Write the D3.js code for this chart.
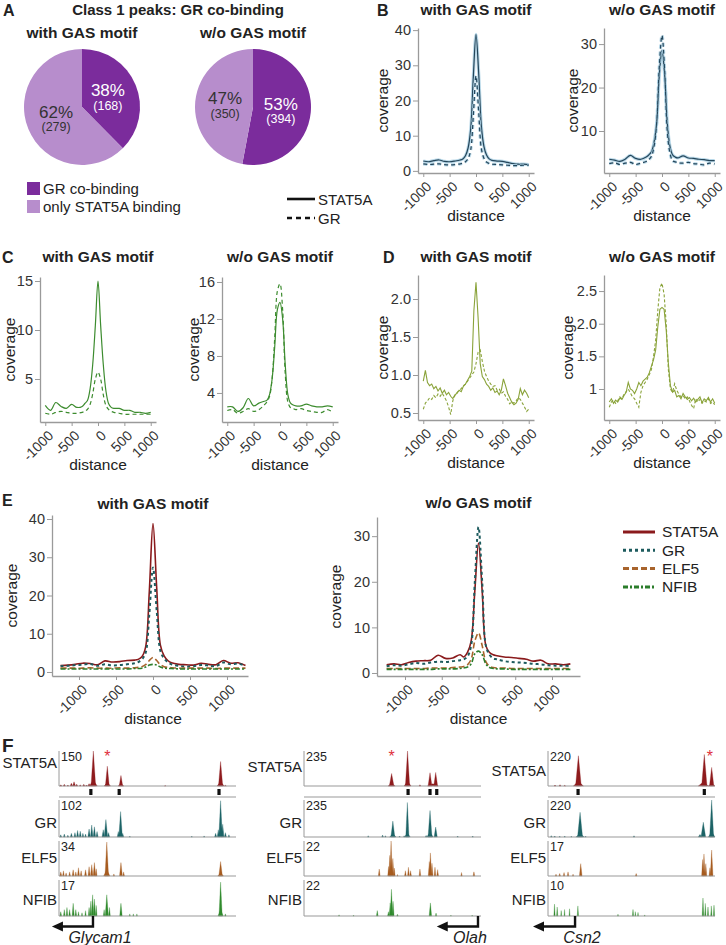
<!DOCTYPE html>
<html>
<head>
<meta charset="utf-8">
<script src="https://cdn.jsdelivr.net/npm/d3@7"></script>
<style>
  body { margin: 0; background: #fff; }
  svg text { font-family: "Liberation Sans", Arial, sans-serif; fill: #222; }
</style>
</head>
<body>
<svg id="fig" width="726" height="945"></svg>
<script>
// ---------- data ----------
// panel A
const pieCategories = ["GR co-binding", "only STAT5A binding"];
const pieWithGAS = [168, 279];
const pieWithoutGAS = [394, 350];

// panels B, C: distance grid
const distB = [-1000,-900,-800,-700,-600,-500,-400,-300,-250,-200,-150,-100,-50,0,50,100,150,200,250,300,400,500,600,700,800,900,1000];
const bWithSTAT5A = [2.8,2.6,2.9,3.1,2.7,2.6,2.8,3.1,3.4,4.3,6.5,12,27,38.8,28,13,7,4.5,3.4,3.0,2.8,2.7,2.4,2.1,1.9,1.9,1.8];
const bWithGR     = [2.0,1.8,1.9,2.0,1.8,1.7,1.8,2.0,2.2,2.6,3.5,6,16,27,17,6.5,3.6,2.5,2.1,1.9,1.8,1.7,1.6,1.5,1.5,1.6,1.6];
const bWithoutSTAT5A = [3.5,3.3,3.0,3.5,4.4,3.7,3.5,4.0,4.5,5.2,7.5,12,23,28.5,23,12,6.5,4.5,4.0,3.8,4.3,3.8,3.7,3.5,3.4,3.2,3.2];
const bWithoutGR     = [2.5,2.7,2.3,2.6,2.8,2.3,2.6,3.0,3.4,4.2,6.5,12,25,32,24,10,5,3.2,2.9,2.7,2.6,2.8,2.5,2.4,2.2,2.6,2.4];

const cWithSTAT5A = [2.3,1.8,2.6,2.2,2.0,2.4,2.1,2.2,2.5,2.8,4.0,6.5,10.5,15,10.5,6.5,3.8,2.5,2.1,2.0,2.0,1.8,1.8,1.6,1.6,1.5,1.6];
const cWithGR     = [1.5,1.4,1.6,1.7,1.6,1.5,1.5,1.6,1.7,1.9,2.4,3.5,5,5.7,5,3.4,2.3,1.9,1.7,1.6,1.5,1.4,1.4,1.4,1.4,1.4,1.4];
const cWithoutSTAT5A = [2.5,2.5,2.0,2.4,3.4,2.6,2.9,3.1,3.2,3.8,5.5,9,13,13.8,12,7,3.8,2.9,2.7,2.6,2.6,2.8,2.6,2.5,2.5,2.6,2.5];
const cWithoutGR     = [2.1,2.2,1.8,2.0,2.3,2.0,2.2,2.7,3.0,3.6,5.5,10,15,15.8,13,6,3.0,2.4,2.3,2.2,2.3,2.1,2.0,1.9,1.9,2.2,1.9];

// panel D
const distD = [-1000,-960,-920,-880,-840,-800,-760,-720,-680,-640,-600,-560,-520,-480,-440,-400,-360,-320,-280,-240,-200,-160,-120,-80,-40,0,40,80,120,160,200,240,280,320,360,400,440,480,520,560,600,640,680,720,760,800,840,880,920,960,1000];
const dWithSTAT5A = [0.92,1.06,0.90,0.86,0.88,0.82,0.85,0.79,0.83,0.76,0.80,0.74,0.77,0.72,0.69,0.74,0.76,0.80,0.78,0.85,0.88,0.93,0.98,1.05,1.85,2.22,1.75,1.15,0.98,0.94,0.88,0.85,0.80,0.83,0.77,0.79,0.74,0.80,0.95,0.86,0.76,0.70,0.64,0.61,0.63,0.68,0.82,0.74,0.80,0.76,0.70];
const dWithGR     = [0.55,0.63,0.66,0.70,0.68,0.73,0.70,0.75,0.72,0.76,0.71,0.66,0.58,0.48,0.66,0.73,0.77,0.80,0.82,0.86,0.88,0.92,0.96,1.00,1.04,1.15,1.30,1.33,1.18,1.05,0.98,0.92,0.88,0.85,0.86,0.80,0.82,0.76,0.78,0.72,0.68,0.62,0.65,0.63,0.66,0.70,0.68,0.63,0.58,0.52,0.55];
const dWithoutSTAT5A = [0.80,0.85,0.78,0.83,0.80,0.86,0.84,0.90,0.95,1.10,1.00,0.98,0.93,1.00,1.10,1.05,1.12,1.15,1.18,1.25,1.35,1.45,1.60,1.95,2.22,2.25,2.22,1.90,1.40,1.05,0.95,0.98,0.88,0.90,0.85,0.93,0.88,0.84,0.87,0.82,0.86,0.80,0.84,0.88,0.79,0.85,0.82,0.87,0.80,0.85,0.78];
const dWithoutGR     = [0.72,0.80,0.83,0.78,0.82,0.88,0.85,0.92,0.96,1.00,0.94,0.88,0.85,0.78,0.72,0.95,1.05,1.10,1.15,1.22,1.30,1.50,1.75,2.20,2.55,2.62,2.45,2.00,1.30,1.00,0.95,1.08,0.98,0.92,0.88,0.90,0.85,0.88,0.82,0.75,0.70,0.85,0.80,0.84,0.78,0.82,0.80,0.85,0.78,0.80,0.76];

// panel E
const distE = [-1250,-1150,-1050,-950,-850,-750,-650,-550,-450,-350,-250,-200,-150,-100,-50,0,50,100,150,200,250,350,450,550,650,750,850,950,1050,1150,1250];
const eWithSTAT5A = [1.7,1.8,2.0,2.3,2.2,1.9,2.9,2.6,2.7,3.0,3.1,3.3,4.0,6.5,21,38.8,22,7,4.2,3.0,2.4,2.0,1.9,1.8,2.3,2.0,1.9,3.0,2.3,2.4,1.7];
const eWithGR     = [1.5,1.6,1.8,1.9,2.1,1.6,2.0,1.7,1.8,2.0,2.3,2.6,3.3,5,15,27.3,16,5.5,3.5,2.6,2.0,1.6,1.4,1.5,1.8,1.7,1.5,2.5,2.0,2.2,1.6];
const eWithELF5   = [1.0,1.0,1.0,1.0,1.1,1.0,1.0,1.0,1.1,1.0,1.1,1.2,1.4,1.9,3.0,3.8,3.0,1.9,1.4,1.2,1.1,1.0,1.0,1.0,1.0,1.0,0.9,1.0,1.0,1.0,1.0];
const eWithNFIB   = [0.8,0.8,0.8,0.8,0.8,0.8,0.8,0.8,0.8,0.8,0.9,0.9,1.0,1.3,1.8,2.0,1.8,1.3,1.0,0.9,0.9,0.8,0.8,0.8,0.8,0.8,0.8,0.8,0.8,0.8,0.8];
const eWithoutSTAT5A = [1.8,2.0,1.8,2.3,2.6,2.7,2.8,3.9,3.2,3.3,4.0,3.5,4.5,7,18,28.5,18,6,4.5,4.0,3.8,3.5,3.4,3.2,3.0,2.6,2.8,2.0,2.0,1.8,2.0];
const eWithoutGR     = [1.5,1.7,1.6,1.9,2.2,2.0,2.3,2.5,2.4,2.6,2.8,3.0,3.6,6,20,32,20,6,4.0,3.2,3.0,2.6,2.4,2.3,2.2,2.0,1.9,1.7,1.6,1.6,1.5];
const eWithoutELF5   = [1.0,1.0,1.0,1.0,1.0,1.0,1.1,1.1,1.1,1.2,1.3,1.4,1.8,3.0,7.0,8.8,6.0,2.5,1.5,1.2,1.1,1.1,1.0,1.0,1.0,1.0,1.0,1.0,1.0,1.0,1.0];
const eWithoutNFIB   = [0.8,0.8,0.8,0.8,0.8,0.8,0.8,0.9,0.9,0.9,1.0,1.1,1.3,2.0,4.2,4.8,4.0,2.0,1.2,1.0,0.9,0.9,0.8,0.8,0.8,0.8,0.8,0.8,0.8,0.8,0.8];

const factors = ["STAT5A", "GR", "ELF5", "NFIB"];
const xTicksB = [-1000, -500, 0, 500, 1000];

// panel F: loci, track maxima, peaks as [position 0-100, height, half width]
const geneNames = ["Glycam1", "Olah", "Csn2"];
const geneTss = [19.2, 98.3, 16.2];
const geneTip = [-4, 75, -9];
const trackMax = [[150, 102, 34, 17], [235, 235, 22, 22], [220, 220, 17, 10]];
const peakCalls = [[18, 34, 90.4], [58.8, 71.2, 75], [18, 93.6]];
const starPos = [27.3, 49.5, 97];

const glyStat = [[1,5,.6],[3,7,.6],[5,4,.5],[7,12,.7],[8.5,18,.8],[10,8,.6],[12,5,.5],[14,7,.6],[15.5,4,.5],[17,10,.8],[19.4,25,2.2],[19.4,150,1.3],[27.3,15,1.8],[27.3,85,1.1],[35,10,1.6],[35,45,1],[60,2,.4],[91.3,18,2],[91.3,105,1.2],[94,3,.5]];
const glyGR = [[1,6,.5],[3,8,.5],[5,5,.5],[7,10,.6],[9,12,.6],[10.5,18,.6],[12,16,.6],[13.5,10,.5],[15,8,.5],[17,22,.7],[18.5,33,.7],[20,28,.7],[21.5,15,.6],[25,20,.7],[26.5,48,1],[28,12,.6],[33.5,15,.6],[34.8,70,1],[36,10,.6],[40,2,.4],[75,2,.4],[82,3,.4],[88.5,10,.6],[90,20,.6],[91.3,100,1],[92.5,35,.7],[94,12,.6],[96,6,.5]];
const glyELF5 = [[1,4,.6],[2.5,5,.5],[4,3,.5],[6,4,.5],[8,6,.6],[9.5,4,.5],[11,8,.6],[12.5,5,.5],[15,6,.6],[17,9,.6],[18.5,11,.7],[20,13,.7],[21,7,.5],[27,6,1.8],[27,33,1],[31,2,.4],[35,13,.8],[36.5,4,.5],[91.3,3,1.6],[91.3,14,1]];
const glyNFIB = [[1,2,.5],[3,3,.5],[4.5,4,.5],[6,3,.5],[8,6,.6],[9.5,3,.5],[11,2,.4],[13,1.5,.4],[15,2.5,.4],[17,4,.5],[18,7,.5],[19,10,.6],[20,8,.6],[21,5,.5],[25.5,3,.5],[27,10,.9],[28.5,4,.5],[35,6,.7],[40,1,.3],[42,1,.3],[44,1,.3],[91.3,3,1.5],[91.3,16,.9],[94,1,.4]];

const olahStat = [[49.5,15,2],[49.5,84,1.3],[58.5,30,2],[58.5,235,1.2],[65.5,8,.5],[72.8,15,3],[71.2,89,1.1],[74.4,91,1.1]];
const olahGR = [[36.3,8,.4],[44.4,12,.5],[46,8,.4],[50.2,20,1.8],[50.2,101,1.1],[54,6,.4],[56.6,8,.4],[58.4,25,1.6],[58.4,219,.9],[69,10,.5],[71.2,30,1.8],[71.2,168,1.1],[74.4,63,.9],[86.8,6,.4],[95.3,6,.4]];
const olahELF5 = [[42.5,4.4,.5],[47.8,6,.5],[48.5,13,.6],[49.2,22,.7],[50.2,11,.6],[51,5,.5],[52.8,1,.3],[57.3,3.3,.5],[59,5.5,.5],[60.2,3.3,.5],[65.5,4.4,.5],[70.8,9,.6],[71.4,14.5,.7],[72.3,8,.6],[74,5.5,.5],[75.5,4,.5],[89,2.2,.4],[96,2.6,.5]];
const olahNFIB = [[19.8,0.7,.3],[28,0.5,.3],[41.4,3.3,.5],[47.7,2.6,.5],[48.7,8,.6],[49.4,16.3,.7],[50.3,9,.6],[52.8,1.1,.4],[71.4,8,.7],[74.6,1.8,.4],[83,0.5,.3],[95,0.5,.3]];

const csnStat = [[4.2,6,.6],[7.2,8,.6],[10,4,.5],[18.2,30,3],[18.2,190,1.7],[93,25,3],[98,15,2],[93.6,198,1.6],[98,117,1.3]];
const csnGR = [[2,8,.5],[4,6,.5],[7,5,.4],[10,6,.4],[14,4,.4],[19.2,20,2.5],[19.2,147,1.5],[22.5,5,.4],[51.5,7,.5],[91,15,1],[93,88,1.4],[98,30,2],[98,220,1.2]];
const csnELF5 = [[4.8,0.9,.5],[7,1.2,.5],[9.6,1.7,.5],[12,2,.5],[15,0.9,.4],[19.6,6,.8],[52.8,1.2,.5],[92.6,8,.6],[93.4,10.7,.7],[94.5,6,.6],[97,4,.6],[98,12.6,.8]];
const csnNFIB = [[3.9,3.3,.4],[5.5,2.5,.4],[7.9,1.5,.3],[9.9,1.8,.3],[12.9,2,.3],[17.9,2.8,.4],[41.9,0.5,.3],[50.9,1.8,.4],[52.3,1.2,.3],[53.9,1,.3],[57.9,0.3,.3],[92.8,5,.5],[94.2,3.5,.4],[95.8,2.5,.4],[97.8,2.8,.4],[99.4,3,.4]];

// ---------- drawing ----------
const svg = d3.select("#fig");
const bold = (sel) => sel.style("font-weight", "bold");

function txt(x, y, s, size, opts = {}) {
  const t = svg.append("text").attr("x", x).attr("y", y).attr("dy", "0.35em")
    .attr("text-anchor", opts.anchor || "middle").style("font-size", size + "px").text(s);
  if (opts.bold) bold(t);
  if (opts.italic) t.style("font-style", "italic");
  if (opts.fill) t.style("fill", opts.fill);
  return t;
}

// panel letters and titles
[["A", 3, 10], ["B", 377, 10], ["C", 2, 257], ["D", 383, 257], ["E", 2, 500]].forEach(d =>
  txt(d[1], d[2], d[0], 16, { anchor: "start", bold: true }));
txt(2, 745, "F", 19, { anchor: "start", bold: true });

txt(178, 10, "Class 1 peaks: GR co-binding", 15, { bold: true });

// ---------- panel A ----------
const pieColors = ["#7b2c9c", "#b78dcc"];
function drawPie(cx, cy, vals, title) {
  txt(cx, 33, title, 15.5, { bold: true });
  const r = 58;
  const arcs = d3.pie().sort(null)(vals);
  const arc = d3.arc().innerRadius(0).outerRadius(r);
  const lab = d3.arc().innerRadius(28).outerRadius(28);
  const total = d3.sum(vals);
  const g = svg.append("g").attr("transform", `translate(${cx},${cy})`);
  g.selectAll("path").data(arcs).join("path")
    .attr("d", arc).attr("fill", (d, i) => pieColors[i]);
  arcs.forEach((d, i) => {
    const c = lab.centroid(d);
    const col = i === 0 ? "#fff" : "#333";
    txt(cx + c[0], cy + c[1] - 6, Math.round(d.value / total * 100) + "%", 17, { fill: col });
    txt(cx + c[0], cy + c[1] + 9, "(" + d.value + ")", 12.5, { fill: col });
  });
}
drawPie(82, 107, pieWithGAS, "with GAS motif");
drawPie(253, 107, pieWithoutGAS, "w/o GAS motif");

pieCategories.forEach((c, i) => {
  svg.append("rect").attr("x", 27).attr("y", 182 + i * 18).attr("width", 13).attr("height", 13)
    .attr("fill", pieColors[i]);
  txt(43, 188.5 + i * 18, c, 15, { anchor: "start" });
});

// line style legend for B-D
[["STAT5A", null], ["GR", "5,4"]].forEach((d, i) => {
  const l = svg.append("line").attr("x1", 287).attr("x2", 315)
    .attr("y1", 199 + i * 19).attr("y2", 199 + i * 19)
    .attr("stroke", "#111").attr("stroke-width", 2.6);
  if (d[1]) l.attr("stroke-dasharray", d[1]);
  txt(318, 200 + i * 19, d[0], 15, { anchor: "start" });
});

// ---------- profile plots ----------
function profilePlot(p) {
  const x = d3.scaleLinear().domain(p.xDom).range([p.left, p.right]);
  const y = d3.scaleLinear().domain(p.yDom).range([p.bottom, p.top]);
  const g = svg.append("g");

  const xa = g.append("g").attr("transform", `translate(0,${p.bottom})`)
    .call(d3.axisBottom(x).tickValues(p.xTicks || xTicksB).tickSize(4).tickSizeOuter(0)
      .tickFormat(d => String(d)));
  xa.selectAll("text").attr("x", 0).attr("y", 0).attr("dy", "0.35em")
    .attr("transform", "translate(5,11) rotate(-45)")
    .style("text-anchor", "end").style("font-size", "14px");

  const ya = g.append("g").attr("transform", `translate(${p.left},0)`)
    .call(d3.axisLeft(y).tickValues(p.yTicks).tickSize(5).tickSizeOuter(0)
      .tickFormat(p.yFmt || (d => String(d))));
  ya.selectAll("text").attr("x", -7).style("font-size", "14.5px");

  [xa, ya].forEach(a => {
    a.select(".domain").attr("stroke", "#9a9a9a").attr("stroke-width", 1.3);
    a.selectAll(".tick line").attr("stroke", "#9a9a9a");
    a.selectAll("text").style("fill", "#333").style("font-family", "Liberation Sans, Arial, sans-serif");
  });

  const line = d3.line().x((d, i) => x(p.dist[i])).y(d => y(d)).curve(p.curve || d3.curveCatmullRom);
  p.series.forEach(s => {
    if (s.halo) {
      const h = g.append("path").attr("d", line(s.values)).attr("fill", "none")
        .attr("stroke", s.halo).attr("stroke-width", 3.2).attr("stroke-opacity", 0.8);
      if (s.dash) h.attr("stroke-dasharray", s.dash);
    }
    const l = g.append("path").attr("d", line(s.values)).attr("fill", "none")
      .attr("stroke", s.color).attr("stroke-width", s.width || 1.2);
    if (s.dash) l.attr("stroke-dasharray", s.dash);
  });

  txt((x(-1000) + x(1000)) / 2, p.bottom + 43, "distance", 15.5);
  svg.append("text").attr("transform", `translate(${p.labX},${(p.top + p.bottom) / 2}) rotate(-90)`)
    .attr("dy", "0.35em").attr("text-anchor", "middle").style("font-size", "15.5px").text("coverage");
  txt((x(-1000) + x(1000)) / 2, p.titleY, p.title, 15.5, { bold: true });
}

const colB = "#25465a", haloB = "#a9cfe4";
profilePlot({ left: 418, right: 534, top: 28, bottom: 173, xDom: [-1100, 1100], yDom: [-0.6, 40.6],
  yTicks: [0, 10, 20, 30, 40], dist: distB, labX: 383, title: "with GAS motif", titleY: 10,
  series: [{ values: bWithSTAT5A, color: colB, halo: haloB }, { values: bWithGR, color: colB, halo: haloB, dash: "4,3" }] });
profilePlot({ left: 604, right: 720, top: 28, bottom: 173, xDom: [-1100, 1100], yDom: [0.34, 33.7],
  yTicks: [10, 20, 30], dist: distB, labX: 573, title: "w/o GAS motif", titleY: 10,
  series: [{ values: bWithoutSTAT5A, color: colB, halo: haloB }, { values: bWithoutGR, color: colB, halo: haloB, dash: "4,3" }] });

const colC = "#3d8c2f";
profilePlot({ left: 40, right: 156, top: 277, bottom: 422, xDom: [-1100, 1100], yDom: [0.61, 15.41],
  yTicks: [5, 10, 15], dist: distB, labX: 10, title: "with GAS motif", titleY: 257,
  series: [{ values: cWithSTAT5A, color: colC }, { values: cWithGR, color: colC, dash: "4,3" }] });
profilePlot({ left: 222, right: 338, top: 277, bottom: 422, xDom: [-1100, 1100], yDom: [0.86, 16.54],
  yTicks: [4, 8, 12, 16], dist: distB, labX: 194, title: "w/o GAS motif", titleY: 257,
  series: [{ values: cWithoutSTAT5A, color: colC }, { values: cWithoutGR, color: colC, dash: "4,3" }] });

const colD = "#8aa33a";
profilePlot({ left: 418, right: 534, top: 275, bottom: 420, xDom: [-1100, 1100], yDom: [0.408, 2.316],
  yTicks: [0.5, 1, 1.5, 2], yFmt: d3.format(".1f"), dist: distD, labX: 383, curve: d3.curveLinear,
  title: "with GAS motif", titleY: 257,
  series: [{ values: dWithSTAT5A, color: colD, width: 1.1 }, { values: dWithGR, color: colD, width: 1.1, dash: "3,2" }] });
profilePlot({ left: 604, right: 720, top: 275, bottom: 420, xDom: [-1100, 1100], yDom: [0.525, 2.746],
  yTicks: [1, 1.5, 2, 2.5], yFmt: d => d === 1 ? "1" : d3.format(".1f")(d), dist: distD, labX: 568,
  curve: d3.curveLinear, title: "w/o GAS motif", titleY: 257,
  series: [{ values: dWithoutSTAT5A, color: colD, width: 1.1 }, { values: dWithoutGR, color: colD, width: 1.1, dash: "3,2" }] });

// panel E
const eColors = ["#8a1a1c", "#1d5b5e", "#a8642c", "#2b7d2b"];
const eDash = [null, "3,3", "6,3", "5,2,2,2"];
const eWidth = [1.6, 2, 1.6, 1.6];
const eStyle = (vals) => vals.map((v, i) => ({ values: v, color: eColors[i], dash: eDash[i], width: eWidth[i] }));
profilePlot({ left: 52, right: 248, top: 515, bottom: 676, xDom: [-1365, 1284], yDom: [-1.05, 41.05],
  yTicks: [0, 10, 20, 30, 40], dist: distE, labX: 12, title: "with GAS motif", titleY: 504,
  series: eStyle([eWithSTAT5A, eWithGR, eWithELF5, eWithNFIB]) });
profilePlot({ left: 377, right: 580, top: 517, bottom: 676, xDom: [-1381, 1381], yDom: [-0.66, 34.2],
  yTicks: [0, 10, 20, 30], dist: distE, labX: 336, title: "w/o GAS motif", titleY: 503,
  series: eStyle([eWithoutSTAT5A, eWithoutGR, eWithoutELF5, eWithoutNFIB]) });

factors.forEach((f, i) => {
  const l = svg.append("line").attr("x1", 623).attr("x2", 655)
    .attr("y1", 532 + i * 18.3).attr("y2", 532 + i * 18.3)
    .attr("stroke", eColors[i]).attr("stroke-width", 3);
  if (eDash[i]) l.attr("stroke-dasharray", eDash[i]);
  txt(662, 532 + i * 18.3, f, 15.5, { anchor: "start" });
});

// ---------- panel F ----------
const rowGeom = [
  { top: 751, base: 786, color: "#8e1b1d" },
  { top: 800, base: 837, color: "#1c6366" },
  { top: 841, base: 876, color: "#a65b1f" },
  { top: 880, base: 916, color: "#2f8a2c" }
];
const lociX = [[59, 236], [304, 481], [548, 715]];
const statLabelY = [763, 767, 771];
const rowLabelY = [null, 823, 858, 900];
const lociPeaks = [
  [glyStat, glyGR, glyELF5, glyNFIB],
  [olahStat, olahGR, olahELF5, olahNFIB],
  [csnStat, csnGR, csnELF5, csnNFIB]
];

lociPeaks.forEach((rows, li) => {
  const [x0, x1] = lociX[li];
  const x = d3.scaleLinear().domain([0, 100]).range([x0, x1]);
  rows.forEach((peaks, ri) => {
    const gm = rowGeom[ri];
    const y = d3.scaleLinear().domain([0, trackMax[li][ri]]).range([gm.base, gm.top]);
    const tri = d3.line().x(d => x(d[0])).y(d => y(d[1]));
    svg.append("g").selectAll("path").data(peaks).join("path")
      .attr("d", d => tri([[d[0] - d[2], 0], [d[0], d[1]], [d[0] + d[2], 0]]) + "Z")
      .attr("fill", gm.color).attr("stroke", gm.color).attr("stroke-width", 0.3);
    svg.append("line").attr("x1", x0).attr("x2", x1).attr("y1", gm.base).attr("y2", gm.base)
      .attr("stroke", "#9a9a9a").attr("stroke-width", 1.2);
    svg.append("line").attr("x1", x0).attr("x2", x0).attr("y1", gm.top).attr("y2", gm.base)
      .attr("stroke", "#9a9a9a").attr("stroke-width", 1);
    txt(x0 + 2, gm.top + 6, trackMax[li][ri], 12.5, { anchor: "start" });
    txt(x0 - 2, ri === 0 ? statLabelY[li] : rowLabelY[ri], factors[ri], 15, { anchor: "end" });
  });
  // peak calls and separator
  svg.append("g").selectAll("rect").data(peakCalls[li]).join("rect")
    .attr("x", d => x(d) - 1.6).attr("y", 789).attr("width", 3.2).attr("height", 6).attr("fill", "#111");
  svg.append("line").attr("x1", x0).attr("x2", x1).attr("y1", 797).attr("y2", 797)
    .attr("stroke", "#9a9a9a").attr("stroke-width", 1.2);
  txt(x(starPos[li]), 756, "*", 16, { fill: "#e0303c" });
  // gene arrow
  const tss = x(geneTss[li]), tip = x(geneTip[li]);
  const dir = tip < tss ? 1 : -1;
  svg.append("path").attr("d", `M${tss},916 V926.5 H${tip + dir * 8}`)
    .attr("fill", "none").attr("stroke", "#111").attr("stroke-width", 2.4);
  svg.append("path").attr("d", `M${tip},926.5 L${tip + dir * 11},921.5 L${tip + dir * 11},931.5 Z`)
    .attr("fill", "#111");
  txt(li === 1 ? x(geneTss[li]) - 8 : x(geneTss[li]) + 7, 937.5, geneNames[li], 16, { italic: true });
});
</script>
</body>
</html>
